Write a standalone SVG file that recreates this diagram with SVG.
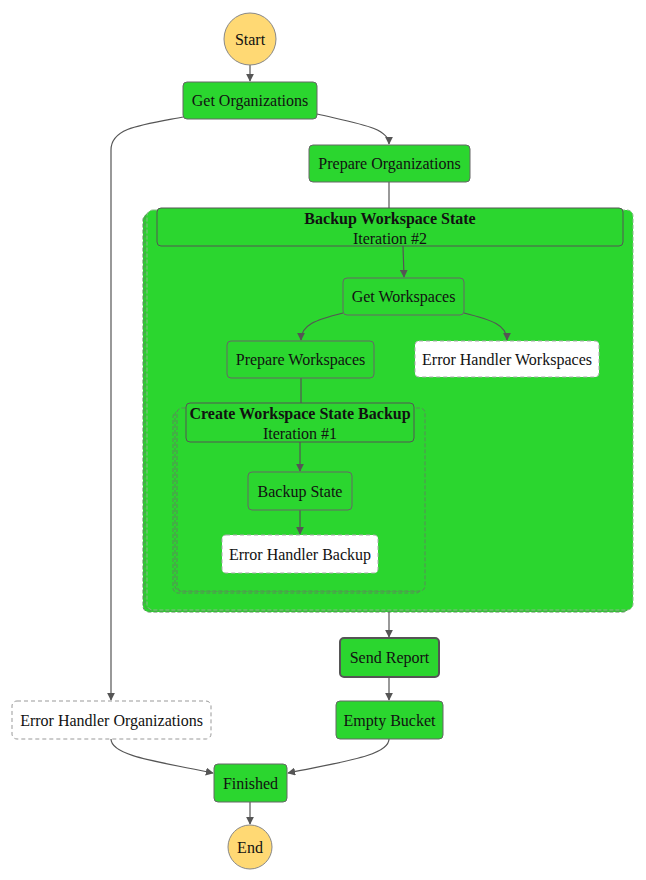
<svg xmlns="http://www.w3.org/2000/svg" width="646" height="880" viewBox="0 0 646 880" font-family="'Liberation Serif', 'Times New Roman', serif">
<defs>
<marker id="arr" viewBox="0 0 10 10" refX="9" refY="5" markerWidth="8" markerHeight="8" markerUnits="userSpaceOnUse" orient="auto">
<path d="M0,0 L10,5 L0,10 z" fill="#555"/>
</marker>
</defs>
<style>
text{font-family:'Liberation Serif','Times New Roman',serif;font-size:16px;fill:#111;text-anchor:middle;dominant-baseline:central}
.b{font-weight:bold}
.task{fill:#2bd62f;stroke:#666;stroke-width:1}
.err{fill:#fff;stroke:#aaa;stroke-width:1;stroke-dasharray:4,3}
.errg{fill:#fff;stroke:#999;stroke-width:1;stroke-dasharray:4,3}
.term{fill:#ffd974;stroke:#888;stroke-width:1}
.stack{fill:#2bd62f;stroke:#5a8a5a;stroke-width:1;stroke-dasharray:4,2}
.hdr{fill:#2bd62f;stroke:#555;stroke-width:1}
.edge{fill:none;stroke:#555;stroke-width:1.2}
</style>

<g id="map-backup-workspace-state">
<rect class="stack" x="143" y="214" width="486" height="398" rx="6"/>
<rect class="stack" x="145" y="212" width="486" height="398" rx="6"/>
<rect class="stack" x="147" y="210" width="486" height="400" rx="6" style="stroke:#8ab88a"/>
<rect class="hdr" x="157" y="208" width="466" height="38" rx="4"/>
<text class="b" x="390" y="218">Backup Workspace State</text>
<text x="390" y="238">Iteration #2</text>
</g>

<g id="map-create-workspace-state-backup">
<rect class="stack" x="173" y="412" width="248" height="181" rx="5"/>
<rect class="stack" x="175" y="410" width="248" height="181" rx="5"/>
<rect class="stack" x="177" y="408" width="248" height="183" rx="5"/>
<rect class="hdr" x="186" y="403" width="228" height="39" rx="4"/>
<text class="b" x="300" y="413">Create Workspace State Backup</text>
<text x="300" y="433">Iteration #1</text>
</g>

<g id="edges">
<path class="edge" d="M250,65 L250,81" marker-end="url(#arr)"/>
<path class="edge" d="M317,114 C360,124 389,128 389,144" marker-end="url(#arr)"/>
<path class="edge" d="M183,117 C140,125 111,128 111,150 L111,700" marker-end="url(#arr)"/>
<path class="edge" d="M389,182 L389,208"/>
<path class="edge" d="M403,246 L404,277" marker-end="url(#arr)"/>
<path class="edge" d="M343,313 C315,320 301,325 301,340" marker-end="url(#arr)"/>
<path class="edge" d="M464,313 C492,320 507,325 507,340" marker-end="url(#arr)"/>
<path class="edge" d="M301,378 L301,403"/>
<path class="edge" d="M300,442 L300,471" marker-end="url(#arr)"/>
<path class="edge" d="M300,510 L300,534" marker-end="url(#arr)"/>
<path class="edge" d="M389,612 L389,637" marker-end="url(#arr)"/>
<path class="edge" d="M389,677 L389,700" marker-end="url(#arr)"/>
<path class="edge" d="M389,739 C389,756 340,762 288,773" marker-end="url(#arr)"/>
<path class="edge" d="M111,739 C111,756 160,762 213,773" marker-end="url(#arr)"/>
<path class="edge" d="M250,802 L250,824" marker-end="url(#arr)"/>
</g>

<g id="start"><circle class="term" cx="250" cy="39" r="26"/><text x="250" y="39">Start</text></g>
<g id="get-organizations"><rect class="task" x="183" y="82" width="134" height="37" rx="4"/><text x="250" y="100.5">Get Organizations</text></g>
<g id="prepare-organizations"><rect class="task" x="309" y="145" width="161" height="37" rx="4"/><text x="389.5" y="163.5">Prepare Organizations</text></g>
<g id="get-workspaces"><rect class="task" x="343" y="278" width="121" height="37" rx="4"/><text x="403.5" y="296.5">Get Workspaces</text></g>
<g id="prepare-workspaces"><rect class="task" x="227" y="341" width="147" height="37" rx="4"/><text x="300.5" y="359.5">Prepare Workspaces</text></g>
<g id="error-handler-workspaces"><rect class="err" x="415" y="341" width="184" height="36" rx="4"/><text x="507" y="359.5">Error Handler Workspaces</text></g>
<g id="backup-state"><rect class="task" x="248" y="472" width="104" height="38" rx="4"/><text x="300" y="491">Backup State</text></g>
<g id="error-handler-backup"><rect class="err" x="222" y="535" width="156" height="38" rx="4"/><text x="300" y="554">Error Handler Backup</text></g>
<g id="send-report"><rect class="task" x="340" y="638" width="99" height="39" rx="4" style="stroke:#555;stroke-width:2"/><text x="389.5" y="657.5">Send Report</text></g>
<g id="empty-bucket"><rect class="task" x="336" y="701" width="107" height="38" rx="4"/><text x="389.5" y="720">Empty Bucket</text></g>
<g id="error-handler-organizations"><rect class="errg" x="12" y="701" width="199" height="38" rx="5"/><text x="111.5" y="720">Error Handler Organizations</text></g>
<g id="finished"><rect class="task" x="214" y="764" width="73" height="38" rx="4"/><text x="250.5" y="783">Finished</text></g>
<g id="end"><circle class="term" cx="250" cy="847" r="22"/><text x="250" y="847">End</text></g>
</svg>
